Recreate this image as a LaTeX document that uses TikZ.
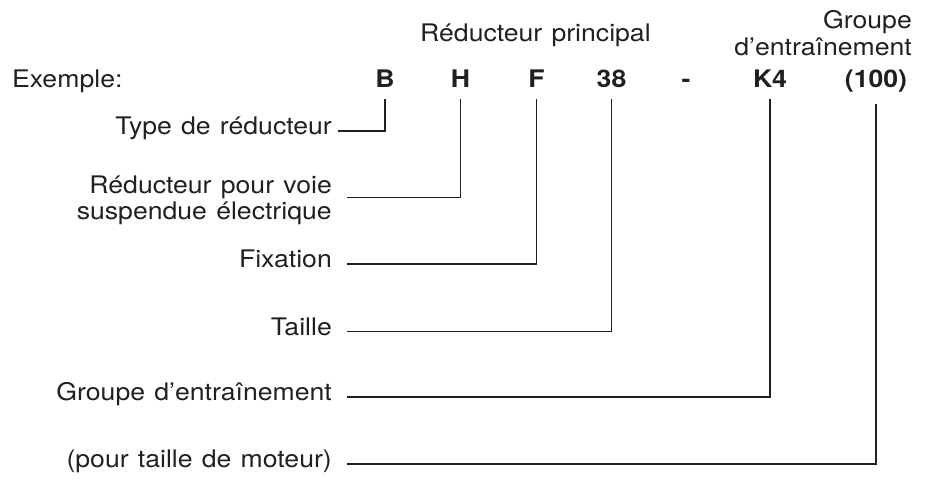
\documentclass[tikz,border=0pt]{standalone}
\usepackage{fontspec}
\setmainfont[FakeStretch=1.1,WordSpace=1.25]{TeX Gyre Heros}
\definecolor{ink}{HTML}{231F20}
\begin{document}
\begin{tikzpicture}[x=1pt,y=-1pt,
  txt/.style={inner sep=0pt, text=ink, font=\fontsize{24.2}{26}\selectfont},
  code/.style={inner sep=0pt, anchor=base, text=ink, font=\fontsize{24.2}{26}\selectfont\bfseries},
  conn/.style={line width=1.1pt, draw=ink}]
\useasboundingbox (0,0) rectangle (928,480);
% header
\node[txt, anchor=base west] (ex) at (12,87.3) {Exemple:};
\node[txt, anchor=base west] (rp) at (420,41.7) {Réducteur principal};
\node[txt, anchor=base east] (g1) at (912,28.3) {Groupe};
\node[txt, anchor=base east] (g2) at (912,55) {d’entraînement};
% code letters
\node[code] (cB) at (385,87.3) {B};
\node[code] (cH) at (460.5,87.3) {H};
\node[code] (cF) at (536.5,87.3) {F};
\node[code] (c38) at (611.5,87.3) {38};
\node[code] (cd) at (686,87.3) {-};
\node[code] (cK) at (770,87.3) {K4};
\node[code] (cP) at (876,87.3) {(100)};
% labels
\node[txt, anchor=mid east] (lB) at (332,132) {Type de réducteur};
\node[txt, anchor=base east] (lH1) at (332,193.3) {Réducteur pour voie};
\node[txt, anchor=base east] (lH2) at (332,219) {suspendue électrique};
\node[txt, anchor=mid east] (lF) at (332,265) {Fixation};
\node[txt, anchor=mid east] (l38) at (332,332.7) {Taille};
\node[txt, anchor=mid east] (lK) at (332,398) {Groupe d’entraînement};
\node[txt, anchor=mid east] (lP) at (332,465) {(pour taille de moteur)};
% connectors
\draw[conn] ([yshift=-11.7pt]cB.south) |- ([xshift=6pt,yshift=1pt]lB.mid east);
\draw[conn] ([yshift=-11.7pt]cH.south) |- ([xshift=15pt,yshift=-4.4pt]lH1.base east);
\draw[conn] ([yshift=-11.7pt]cF.south) |- ([xshift=15pt,yshift=1pt]lF.mid east);
\draw[conn] ([yshift=-11.7pt]c38.south) |- ([xshift=15pt,yshift=1pt]l38.mid east);
\draw[conn] ([yshift=-11.7pt]cK.south) |- ([xshift=15pt,yshift=1pt]lK.mid east);
\draw[conn] ([yshift=-11.7pt]cP.south) |- ([xshift=15pt,yshift=1pt]lP.mid east);
\end{tikzpicture}
\end{document}
